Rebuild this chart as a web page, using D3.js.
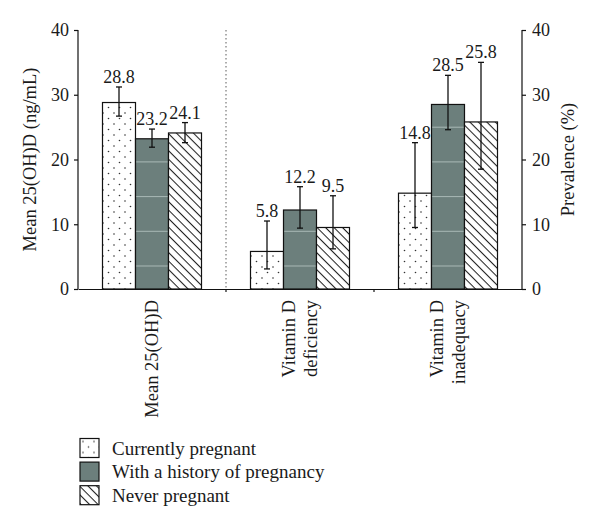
<!DOCTYPE html>
<html>
<head>
<meta charset="utf-8">
<script src="https://cdn.jsdelivr.net/npm/d3@7"></script>
<style>
  body { margin: 0; background: #fff; }
  svg { display: block; }
  text { font-family: "Liberation Serif", "Times New Roman", serif; fill: #1a1a1a; }
</style>
</head>
<body>
<svg id="chart" width="600" height="528"></svg>
<script>
// ---- data ----
const categories = ["Mean 25(OH)D", "Vitamin D deficiency", "Vitamin D inadequacy"];
const categoryLines = [["Mean 25(OH)D"], ["Vitamin D", "deficiency"], ["Vitamin D", "inadequacy"]];
const seriesNames = ["Currently pregnant", "With a history of pregnancy", "Never pregnant"];
const currentlyPregnant = [28.8, 5.8, 14.8];
const historyOfPregnancy = [23.2, 12.2, 28.5];
const neverPregnant = [24.1, 9.5, 25.8];
const currentlyLow = [26.7, 3.1, 9.5];
const currentlyHigh = [31.2, 10.5, 22.6];
const historyLow = [21.9, 9.4, 24.6];
const historyHigh = [24.7, 15.8, 33.0];
const neverLow = [22.6, 6.2, 18.5];
const neverHigh = [25.7, 14.4, 35.0];
const leftTicks = [0, 10, 20, 30, 40];
const rightTicks = [0, 10, 20, 30, 40];

const series = [
  { name: seriesNames[0], values: currentlyPregnant, low: currentlyLow, high: currentlyHigh, fill: "url(#dots)" },
  { name: seriesNames[1], values: historyOfPregnancy, low: historyLow, high: historyHigh, fill: "url(#dark)" },
  { name: seriesNames[2], values: neverPregnant, low: neverLow, high: neverHigh, fill: "url(#hatch)" }
];

const svg = d3.select("#chart");
const mLeft = 78, mRight = 522, mTop = 30, mBottom = 289;
const fontSize = 18;

// patterns
const defs = svg.append("defs");
const dots = defs.append("pattern").attr("id", "dots").attr("patternUnits", "userSpaceOnUse")
  .attr("width", 11).attr("height", 11);
dots.append("rect").attr("width", 11).attr("height", 11).attr("fill", "#fff");
dots.append("circle").attr("cx", 3).attr("cy", 3).attr("r", 0.8).attr("fill", "#333");
dots.append("circle").attr("cx", 8.5).attr("cy", 8.5).attr("r", 0.8).attr("fill", "#333");

const dark = defs.append("pattern").attr("id", "dark").attr("patternUnits", "userSpaceOnUse")
  .attr("width", 309).attr("height", 34.7).attr("y", 126.7 - 34.7 * 3).attr("x", 145 - 309);
dark.append("rect").attr("width", 309).attr("height", 34.7).attr("fill", "#6c7f7c");
dark.append("line").attr("x1", 0).attr("x2", 309).attr("y1", 0.5).attr("y2", 0.5)
  .attr("stroke", "#a9b9b6").attr("stroke-width", 1.2);
dark.append("line").attr("x1", 1).attr("x2", 1).attr("y1", 0).attr("y2", 34.7)
  .attr("stroke", "#a9b9b6").attr("stroke-width", 1.2);

const darkLegend = defs.append("pattern").attr("id", "darkplain").attr("patternUnits", "userSpaceOnUse")
  .attr("width", 10).attr("height", 10);
darkLegend.append("rect").attr("width", 10).attr("height", 10).attr("fill", "#6c7f7c");

const hatch = defs.append("pattern").attr("id", "hatch").attr("patternUnits", "userSpaceOnUse")
  .attr("width", 6).attr("height", 6).attr("patternTransform", "rotate(45)");
hatch.append("rect").attr("width", 6).attr("height", 6).attr("fill", "#fff");
hatch.append("line").attr("x1", 0).attr("x2", 6).attr("y1", 0.5).attr("y2", 0.5)
  .attr("stroke", "#222").attr("stroke-width", 1.1);

// scales
const x0 = d3.scaleBand().domain(categories).range([mLeft, mRight]).paddingInner(0).paddingOuter(0);
const x1 = d3.scaleBand().domain(seriesNames).range([24.5, 148 - 24.5]);
const yL = d3.scaleLinear().domain([0, 40]).range([mBottom, mTop]);
const yR = d3.scaleLinear().domain([0, 40]).range([mBottom, mTop]);

// dotted separator
svg.append("line").attr("x1", x0(categories[1])).attr("x2", x0(categories[1]))
  .attr("y1", mTop).attr("y2", mBottom).attr("stroke", "#777").attr("stroke-width", 1.2)
  .attr("stroke-dasharray", "1.5,2.5");

// bars
const groups = svg.append("g").selectAll("g").data(categories).join("g")
  .attr("transform", d => `translate(${x0(d)},0)`);

series.forEach((s) => {
  const valueScale = (ci) => ci === 0 ? yL : yR;
  groups.append("rect")
    .attr("x", x1(s.name))
    .attr("width", x1.bandwidth())
    .attr("y", (d, ci) => valueScale(ci)(s.values[ci]))
    .attr("height", (d, ci) => mBottom - valueScale(ci)(s.values[ci]))
    .attr("fill", s.fill)
    .attr("stroke", "#111").attr("stroke-width", 1.2);
});

// error bars and labels
series.forEach((s) => {
  groups.each(function(d, ci) {
    const g = d3.select(this);
    const sc = ci === 0 ? yL : yR;
    const cx = x1(s.name) + x1.bandwidth() / 2;
    const yHi = sc(s.high[ci]), yLo = sc(s.low[ci]);
    g.append("line").attr("x1", cx).attr("x2", cx).attr("y1", yHi).attr("y2", yLo)
      .attr("stroke", "#111").attr("stroke-width", 1.3);
    [yHi, yLo].forEach(yy => g.append("line").attr("x1", cx - 3).attr("x2", cx + 3)
      .attr("y1", yy).attr("y2", yy).attr("stroke", "#111").attr("stroke-width", 1.3));
    g.append("text").attr("x", cx).attr("y", yHi - 4).attr("text-anchor", "middle")
      .attr("font-size", fontSize).text(s.values[ci].toFixed(1));
  });
});

// axes
const axisL = svg.append("g").attr("transform", `translate(${mLeft},0)`)
  .call(d3.axisLeft(yL).tickValues(leftTicks).tickSize(4).tickPadding(5));
const axisR = svg.append("g").attr("transform", `translate(${mRight},0)`)
  .call(d3.axisRight(yR).tickValues(rightTicks).tickSize(4).tickPadding(6));
[axisL, axisR].forEach(a => {
  a.select(".domain").attr("stroke", "#111").attr("stroke-width", 1.2).attr("d", `M0,${mTop}V${mBottom}`);
  a.selectAll(".tick line").attr("stroke", "#111").attr("stroke-width", 1.2);
  a.selectAll(".tick text").attr("font-size", fontSize).attr("font-family", "Liberation Serif").attr("fill", "#1a1a1a");
});

// bottom axis
const axisB = svg.append("g").attr("transform", `translate(0,${mBottom})`)
  .call(d3.axisBottom(x0).tickValues([]).tickSizeOuter(0));
axisB.select(".domain").attr("stroke", "#111").attr("stroke-width", 1.2);
axisB.selectAll(".sep").data(categories.slice(1)).join("line").attr("class", "sep")
  .attr("x1", d => x0(d)).attr("x2", d => x0(d)).attr("y1", 0).attr("y2", 3)
  .attr("stroke", "#111").attr("stroke-width", 1.2);

// category labels (rotated)
categoryLines.forEach((lines, ci) => {
  const cx = x0(categories[ci]) + x0.bandwidth() / 2;
  const n = lines.length;
  lines.forEach((ln, li) => {
    const bx = cx + 6 + (li - (n - 1) / 2) * 22;
    svg.append("text")
      .attr("transform", `translate(${bx},${mBottom + 11}) rotate(-90)`)
      .attr("text-anchor", "end").attr("font-size", 18.5).text(ln);
  });
});

// axis titles
svg.append("text").attr("transform", `translate(36,${(mTop + mBottom) / 2}) rotate(-90)`)
  .attr("text-anchor", "middle").attr("font-size", 18.5).text("Mean 25(OH)D (ng/mL)");
svg.append("text").attr("transform", `translate(574,${(mTop + mBottom) / 2}) rotate(-90)`)
  .attr("text-anchor", "middle").attr("font-size", 18.5).text("Prevalence (%)");

// legend
const legendFills = ["url(#dots)", "url(#darkplain)", "url(#hatch)"];
const legend = svg.append("g").selectAll("g").data(seriesNames).join("g")
  .attr("transform", (d, i) => `translate(80,${438.5 + i * 23.6})`);
legend.append("rect").attr("width", 19).attr("height", 19)
  .attr("fill", (d, i) => legendFills[i]).attr("stroke", "#111").attr("stroke-width", 1.2);
legend.append("text").attr("x", 32).attr("y", 16).attr("font-size", 19).text(d => d);
</script>
</body>
</html>
